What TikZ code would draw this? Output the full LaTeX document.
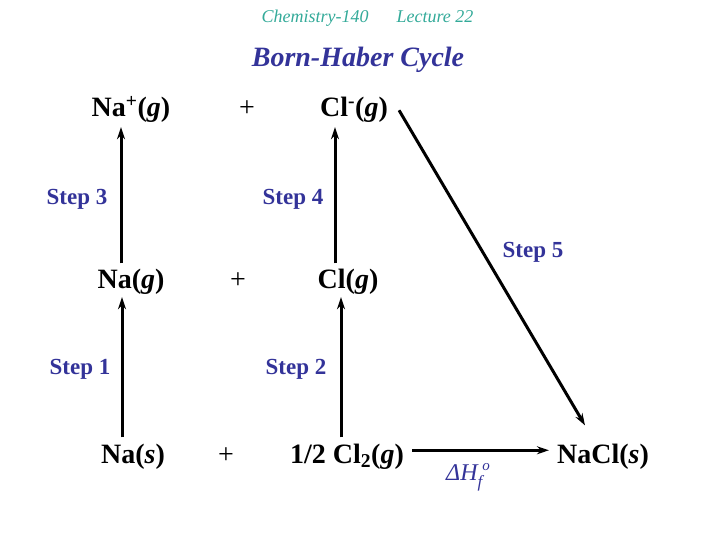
\documentclass[tikz,border=0pt]{standalone}
\usepackage{fontspec}
\setmainfont{Liberation Serif}
\usetikzlibrary{arrows.meta,positioning}
\definecolor{headteal}{RGB}{51,170,153}
\definecolor{stepblue}{RGB}{51,51,153}
\tikzset{
  species/.style={anchor=base,inner sep=1pt,font=\fontsize{28}{30}\selectfont\bfseries},
  plussign/.style={anchor=base,inner sep=1pt,font=\fontsize{28}{30}\selectfont},
  steplabel/.style={anchor=base,inner sep=1pt,text=stepblue,font=\fontsize{23}{25}\selectfont\bfseries},
  stepline/.style={line width=3pt,-{Stealth[length=12pt,width=8pt]}}
}

\begin{document}
\begin{tikzpicture}[x=1pt,y=-1pt]
  \useasboundingbox (0,0) rectangle (720,540);

  \node[anchor=base,text=headteal,font=\fontsize{18}{20}\selectfont\itshape] (course) at (315,23) {Chemistry-140};
  \node[anchor=base,text=headteal,font=\fontsize{18}{20}\selectfont\itshape] (lecture) at (435,23) {Lecture 22};
  \node[anchor=base,text=stepblue,font=\fontsize{28}{30}\selectfont\bfseries\itshape] (title) at (358,67) {Born-Haber Cycle};

  \node[species] (naplus) at (131,117) {Na\textsuperscript{+}(\textit{g})};
  \node[plussign] (plustop) at (247,117) {+};
  \node[species] (clminus) at (354,117) {Cl\textsuperscript{-}(\textit{g})};

  \node[species] (nag) at (131,288) {Na(\textit{g})};
  \node[plussign] (plusmid) at (238,288) {+};
  \node[species] (clg) at (348,288) {Cl(\textit{g})};

  \node[species] (nas) at (133,463) {Na(\textit{s})};
  \node[plussign] (plusbot) at (226,463) {+};
  \node[species] (halfcl) at (347,463) {1/2 Cl\textsubscript{2}(\textit{g})};
  \node[species] (nacl) at (603,463) {NaCl(\textit{s})};

  \node[steplabel] (step3) at (77,205) {Step 3};
  \node[steplabel] (step4) at (293,205) {Step 4};
  \node[steplabel] (step1) at (80,374) {Step 1};
  \node[steplabel] (step2) at (296,374) {Step 2};
  \node[steplabel] (step5) at (533,258) {Step 5};
  \node[anchor=base,inner sep=1pt,text=stepblue,font=\fontsize{24}{26}\selectfont\itshape] (dhf) at (468,480)
    {ΔH\raisebox{-7pt}{\fontsize{17}{18}\selectfont f}\raisebox{10pt}{\fontsize{15}{16}\selectfont o}};

  \draw[stepline,shorten <=4pt,shorten >=3pt] ([xshift=-10pt]nag.north) -- ([xshift=-10pt]nag.north |- naplus.south);
  \draw[stepline,shorten <=5pt,shorten >=2pt] ([xshift=-11pt]nas.north) -- ([xshift=-11pt]nas.north |- nag.south);
  \draw[stepline,shorten <=4pt,shorten >=3pt] ([xshift=-13pt]clg.north) -- ([xshift=-13pt]clg.north |- clminus.south);
  \draw[stepline,shorten <=5pt,shorten >=2pt] ([xshift=-6pt]halfcl.north) -- ([xshift=-6pt]halfcl.north |- clg.south);
  \draw[stepline] ([xshift=10pt]clminus.east) -- ([xshift=-18pt,yshift=17pt]nacl.north);
  \draw[stepline,shorten <=7pt,shorten >=7pt] ([yshift=6pt]halfcl.east) -- ([yshift=6pt]nacl.west);
\end{tikzpicture}
\end{document}
